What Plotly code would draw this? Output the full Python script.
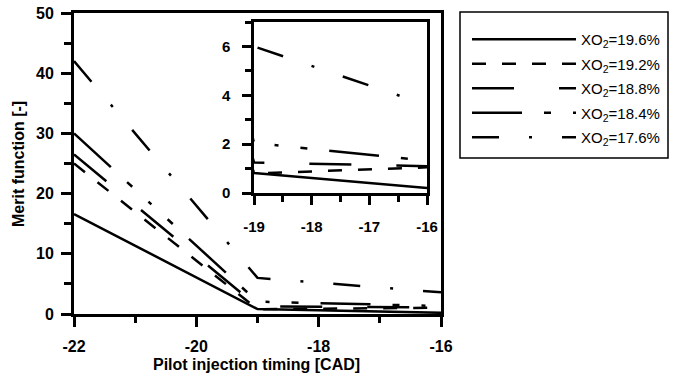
import plotly.graph_objects as go

# ---- data ----
timing = [-22, -19, -16]
xo2_196 = [16.6, 0.82, 0.20]
xo2_192 = [25.0, 0.80, 1.05]
xo2_188 = [26.5, 1.25, 1.10]
xo2_184 = [30.0, 2.05, 1.32]
xo2_176 = [42.0, 6.00, 3.60]

names = ["XO<sub>2</sub>=19.6%", "XO<sub>2</sub>=19.2%", "XO<sub>2</sub>=18.8%",
         "XO<sub>2</sub>=18.4%", "XO<sub>2</sub>=17.6%"]

main_xticks = [-22, -20, -18, -16]
main_xlabels = ["-22", "-20", "-18", "-16"]
main_yticks = [0, 10, 20, 30, 40, 50]
main_ylabels = ["0", "10", "20", "30", "40", "50"]
inset_xticks = [-19, -18, -17, -16]
inset_xlabels = ["-19", "-18", "-17", "-16"]
inset_yticks = [0, 2, 4, 6]
inset_ylabels = ["0", "2", "4", "6"]
x_title = "Pilot injection timing [CAD]"
y_title = "Merit function [-]"

series = [xo2_196, xo2_192, xo2_188, xo2_184, xo2_176]
dashes = ["solid", "14px,16px", "42px,45px",
          "50px,22px,7px,22px,4px,22px,7px,22px", "27px,30px,3px,30px"]

W, H = 674, 383
def px_x(p): return p / W
def px_y(p): return 1 - p / H

fig = go.Figure()
for i, (nm, ys, ds) in enumerate(zip(names, series, dashes)):
    fig.add_trace(go.Scatter(x=timing, y=ys, mode="lines", name=nm,
                             legendgroup=f"g{i}",
                             line=dict(color="black", width=2.5, dash=ds),
                             xaxis="x", yaxis="y"))
for i, (nm, ys, ds) in enumerate(zip(names, series, dashes)):
    fig.add_trace(go.Scatter(x=timing, y=ys, mode="lines", name=nm,
                             showlegend=False, legendgroup=f"g{i}",
                             line=dict(color="black", width=2.5, dash=ds),
                             xaxis="x2", yaxis="y2"))

bold = dict(family="Liberation Sans", size=16, color="black", weight="bold")
bold_small = dict(family="Liberation Sans", size=15, color="black", weight="bold")

main_x = dict(domain=[px_x(74), px_x(441)], range=[-22, -16],
              tickmode="array", tickvals=main_xticks, ticktext=main_xlabels,
              showgrid=False, zeroline=False, showline=True, linewidth=3, linecolor="black",
              mirror=True, ticks="outside", ticklen=10, tickwidth=3, tickcolor="black",
              minor=dict(dtick=1, tick0=-22, ticks="outside", ticklen=6, tickwidth=3, tickcolor="black"),
              tickfont=bold, automargin=False, anchor="y", ticklabelstandoff=6)
main_y = dict(domain=[px_y(314), px_y(13)], range=[0, 50],
              tickmode="array", tickvals=main_yticks, ticktext=main_ylabels,
              showgrid=False, zeroline=False, showline=True, linewidth=3, linecolor="black",
              mirror=True, ticks="outside", ticklen=10, tickwidth=3, tickcolor="black",
              minor=dict(dtick=5, tick0=0, ticks="outside", ticklen=7, tickwidth=3, tickcolor="black"),
              tickfont=bold, automargin=False, anchor="x", ticklabelstandoff=4)
ins_x = dict(domain=[px_x(254), px_x(427)], range=[-19, -16],
             tickmode="array", tickvals=inset_xticks, ticktext=inset_xlabels,
             showgrid=False, zeroline=False, showline=True, linewidth=2.5, linecolor="black",
             mirror=True, ticks="outside", ticklen=9, tickwidth=2.5, tickcolor="black",
             minor=dict(dtick=0.5, tick0=-19, ticks="outside", ticklen=6, tickwidth=2.5, tickcolor="black"),
             tickfont=bold_small, automargin=False, anchor="y2", ticklabelstandoff=9)
ins_y = dict(domain=[px_y(193), px_y(22)], range=[0, 7],
             tickmode="array", tickvals=inset_yticks, ticktext=inset_ylabels,
             showgrid=False, zeroline=False, showline=True, linewidth=2.5, linecolor="black",
             mirror=True, ticks="outside", ticklen=9, tickwidth=2.5, tickcolor="black",
             minor=dict(dtick=1, tick0=0, ticks="outside", ticklen=6, tickwidth=2.5, tickcolor="black"),
             tickfont=bold_small, automargin=False, anchor="x2", ticklabelstandoff=9)

fig.update_layout(
    width=W, height=H,
    margin=dict(l=0, r=0, t=0, b=0),
    paper_bgcolor="white", plot_bgcolor="white",
    xaxis=main_x, yaxis=main_y, xaxis2=ins_x, yaxis2=ins_y,
    showlegend=True,
    legend=dict(x=px_x(467), y=px_y(23), xanchor="left", yanchor="top",
                bgcolor="rgba(0,0,0,0)", borderwidth=0,
                font=dict(family="Liberation Sans", size=15, color="black"),
                itemwidth=104, tracegroupgap=2, traceorder="grouped"),
    shapes=[dict(type="rect", xref="paper", yref="paper",
                 x0=px_x(460), x1=px_x(668), y0=px_y(158), y1=px_y(12),
                 line=dict(color="black", width=1.5), fillcolor="rgba(0,0,0,0)")],
    annotations=[
        dict(text=x_title, xref="paper", yref="paper", x=px_x(256), y=px_y(364),
             xanchor="center", yanchor="middle", showarrow=False, font=bold),
        dict(text=y_title, xref="paper", yref="paper", x=px_x(19), y=px_y(164),
             xanchor="center", yanchor="middle", showarrow=False, font=bold, textangle=-90),
    ],
)

fig.write_html("out.html")
